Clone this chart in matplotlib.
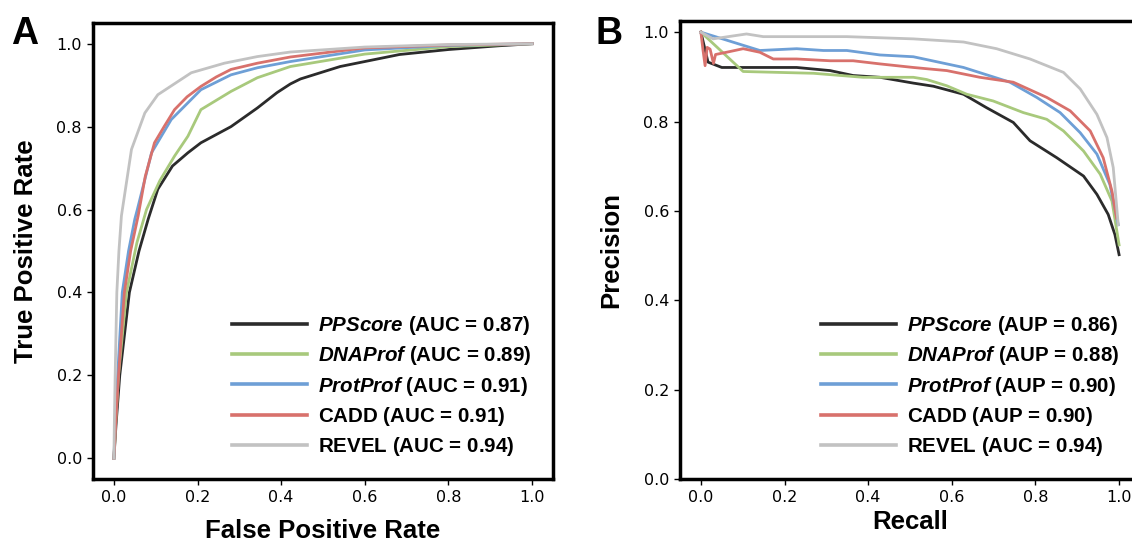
import matplotlib
matplotlib.use("Agg")
import matplotlib.pyplot as plt

# ---------------- data ----------------
methods = ["PPScore", "DNAProf", "ProtProf", "CADD", "REVEL"]
italic_name = [True, True, True, False, False]
auc_values = ["0.87", "0.89", "0.91", "0.91", "0.94"]
aup_values = ["0.86", "0.88", "0.90", "0.90", "0.94"]
aup_tags = ["AUP", "AUP", "AUP", "AUP", "AUC"]
colors = ["#2b2b2b", "#a8c97c", "#6e9fd6", "#d8716c", "#c2c2c2"]

# ROC curves (FPR, TPR)
roc_fpr_pp = [0, 0.005, 0.014, 0.037, 0.060, 0.082, 0.105, 0.140, 0.177, 0.208, 0.28, 0.343, 0.390, 0.422, 0.446, 0.541, 0.683, 0.80, 0.92, 1.0]
roc_tpr_pp = [0, 0.08, 0.20, 0.40, 0.50, 0.577, 0.649, 0.705, 0.737, 0.761, 0.80, 0.845, 0.882, 0.903, 0.915, 0.945, 0.974, 0.986, 0.995, 1.0]

roc_fpr_dna = [0, 0.004, 0.011, 0.030, 0.055, 0.078, 0.110, 0.145, 0.177, 0.208, 0.28, 0.343, 0.422, 0.60, 0.80, 1.0]
roc_tpr_dna = [0, 0.08, 0.20, 0.40, 0.52, 0.60, 0.67, 0.729, 0.777, 0.841, 0.885, 0.918, 0.945, 0.975, 0.993, 1.0]

roc_fpr_prot = [0, 0.003, 0.009, 0.020, 0.035, 0.050, 0.056, 0.09, 0.137, 0.208, 0.28, 0.343, 0.422, 0.60, 0.80, 1.0]
roc_tpr_prot = [0, 0.08, 0.20, 0.40, 0.50, 0.577, 0.60, 0.737, 0.817, 0.889, 0.925, 0.942, 0.957, 0.985, 0.996, 1.0]

roc_fpr_cadd = [0, 0.004, 0.011, 0.025, 0.040, 0.058, 0.075, 0.097, 0.120, 0.145, 0.175, 0.208, 0.245, 0.28, 0.343, 0.422, 0.60, 0.80, 1.0]
roc_tpr_cadd = [0, 0.08, 0.20, 0.40, 0.50, 0.585, 0.68, 0.761, 0.80, 0.841, 0.872, 0.897, 0.920, 0.938, 0.953, 0.968, 0.990, 0.997, 1.0]

roc_fpr_revel = [0, 0.001, 0.003, 0.007, 0.012, 0.018, 0.042, 0.074, 0.105, 0.185, 0.264, 0.343, 0.422, 0.60, 0.80, 1.0]
roc_tpr_revel = [0, 0.08, 0.20, 0.40, 0.50, 0.585, 0.745, 0.833, 0.877, 0.930, 0.953, 0.969, 0.980, 0.992, 0.998, 1.0]

# Precision-recall curves (Recall, Precision)
pr_rec_pp = [0, 0.017, 0.05, 0.229, 0.309, 0.364, 0.428, 0.508, 0.556, 0.628, 0.683, 0.747, 0.787, 0.851, 0.915, 0.947, 0.974, 0.990, 1.0]
pr_pre_pp = [1.0, 0.933, 0.921, 0.921, 0.914, 0.903, 0.899, 0.886, 0.879, 0.861, 0.831, 0.798, 0.757, 0.719, 0.678, 0.637, 0.592, 0.547, 0.502]

pr_rec_dna = [0, 0.101, 0.269, 0.388, 0.508, 0.540, 0.588, 0.636, 0.699, 0.771, 0.827, 0.867, 0.915, 0.955, 0.983, 1.0]
pr_pre_dna = [1.0, 0.912, 0.908, 0.899, 0.899, 0.894, 0.880, 0.861, 0.846, 0.820, 0.805, 0.779, 0.734, 0.682, 0.622, 0.524]

pr_rec_prot = [0, 0.141, 0.229, 0.293, 0.349, 0.428, 0.508, 0.628, 0.739, 0.803, 0.859, 0.907, 0.947, 0.978, 0.998]
pr_pre_prot = [1.0, 0.959, 0.963, 0.959, 0.959, 0.949, 0.945, 0.921, 0.888, 0.854, 0.820, 0.775, 0.727, 0.659, 0.569]

pr_rec_cadd = [0, 0.005, 0.010, 0.015, 0.022, 0.030, 0.035, 0.061, 0.101, 0.141, 0.173, 0.229, 0.309, 0.364, 0.428, 0.508, 0.588, 0.667, 0.747, 0.827, 0.883, 0.931, 0.962, 0.983, 0.994]
pr_pre_cadd = [1.0, 0.96, 0.925, 0.966, 0.962, 0.930, 0.950, 0.955, 0.963, 0.955, 0.940, 0.940, 0.936, 0.936, 0.929, 0.921, 0.914, 0.899, 0.888, 0.854, 0.824, 0.779, 0.719, 0.644, 0.584]

pr_rec_revel = [0, 0.029, 0.109, 0.149, 0.349, 0.508, 0.628, 0.707, 0.787, 0.867, 0.907, 0.947, 0.971, 0.986, 0.998]
pr_pre_revel = [1.0, 0.985, 0.996, 0.990, 0.990, 0.985, 0.978, 0.963, 0.940, 0.910, 0.873, 0.816, 0.764, 0.697, 0.569]

tick_vals = [0.0, 0.2, 0.4, 0.6, 0.8, 1.0]

roc_x = [roc_fpr_pp, roc_fpr_dna, roc_fpr_prot, roc_fpr_cadd, roc_fpr_revel]
roc_y = [roc_tpr_pp, roc_tpr_dna, roc_tpr_prot, roc_tpr_cadd, roc_tpr_revel]
pr_x = [pr_rec_pp, pr_rec_dna, pr_rec_prot, pr_rec_cadd, pr_rec_revel]
pr_y = [pr_pre_pp, pr_pre_dna, pr_pre_prot, pr_pre_cadd, pr_pre_revel]

# ---------------- style ----------------
plt.rcParams['mathtext.fontset'] = 'custom'
plt.rcParams['mathtext.bfit'] = 'Liberation Sans:italic:bold'
plt.rcParams['mathtext.it'] = 'Liberation Sans:italic:bold'
plt.rcParams['mathtext.bf'] = 'Liberation Sans:bold'
plt.rcParams['mathtext.rm'] = 'Liberation Sans:bold'

W, H = 1132, 541
fig = plt.figure(figsize=(W / 100, H / 100), dpi=100)


def fx(px):
    return px / W


def fy(py):
    return 1 - py / H


axA = fig.add_axes([fx(93), fy(479), fx(553) - fx(93), fy(23) - fy(479)])
axB = fig.add_axes([fx(680), fy(479), fx(1140) - fx(680), fy(21) - fy(479)])


def label(name, italic, tag, val):
    if italic:
        return r"$\mathbfit{" + name + "}$ (" + tag + " = " + val + ")"
    return r"$\mathbf{" + name + "}$ (" + tag + " = " + val + ")"


lw = 2.0
for i, m in enumerate(methods):
    axA.plot(roc_x[i], roc_y[i], color=colors[i], lw=lw,
             label=label(m, italic_name[i], "AUC", auc_values[i]))
    axB.plot(pr_x[i], pr_y[i], color=colors[i], lw=lw,
             label=label(m, italic_name[i], aup_tags[i], aup_values[i]))

axA.set_xlim(-0.05, 1.05)
axA.set_ylim(-0.05, 1.05)
axB.set_xlim(-0.05, 1.05)
axB.set_ylim(0, 1.025)

lab_font = dict(family="Liberation Sans", weight="bold", size=18.5)
axA.set_xlabel("False Positive Rate", **lab_font)
axA.set_ylabel("True Positive Rate", **lab_font)
axB.set_xlabel("Recall", **lab_font)
axB.set_ylabel("Precision", **lab_font)
for ax, xl_y, yl_x in ((axA, -0.114, -0.145), (axB, -0.094, -0.149)):
    ax.xaxis.label.set_va("center")
    ax.yaxis.label.set_va("center")
    ax.xaxis.set_label_coords(0.5, xl_y)
    ax.yaxis.set_label_coords(yl_x, 0.5)

leg_kw = dict(loc="lower right", frameon=False,
              prop=dict(family="Liberation Sans", weight="bold", size=14.8),
              handlelength=3.65, handletextpad=0.5, labelspacing=0.35,
              borderaxespad=0.0, borderpad=0.0)

for ax in (axA, axB):
    ax.set_xticks(tick_vals)
    ax.set_yticks(tick_vals)
    ax.set_xticklabels([f"{v:.1f}" for v in tick_vals])
    ax.set_yticklabels([f"{v:.1f}" for v in tick_vals])
    ax.tick_params(labelsize=11.5, width=1, length=4.5)
    for s in ax.spines.values():
        s.set_linewidth(2.5)

legA = axA.legend(bbox_to_anchor=((531 - 93) / 460, (479 - 458) / 456), **leg_kw)
legB = axB.legend(bbox_to_anchor=((1119 - 680) / 460, (479 - 458) / 458), **leg_kw)
for leg in (legA, legB):
    for line in leg.get_lines():
        line.set_linewidth(2.6)

fig.text(fx(11), fy(16), "A", family="Liberation Sans", weight="bold", size=27, va="top")
fig.text(fx(596), fy(16), "B", family="Liberation Sans", weight="bold", size=27, va="top")

fig.savefig("out.png", dpi=100)
